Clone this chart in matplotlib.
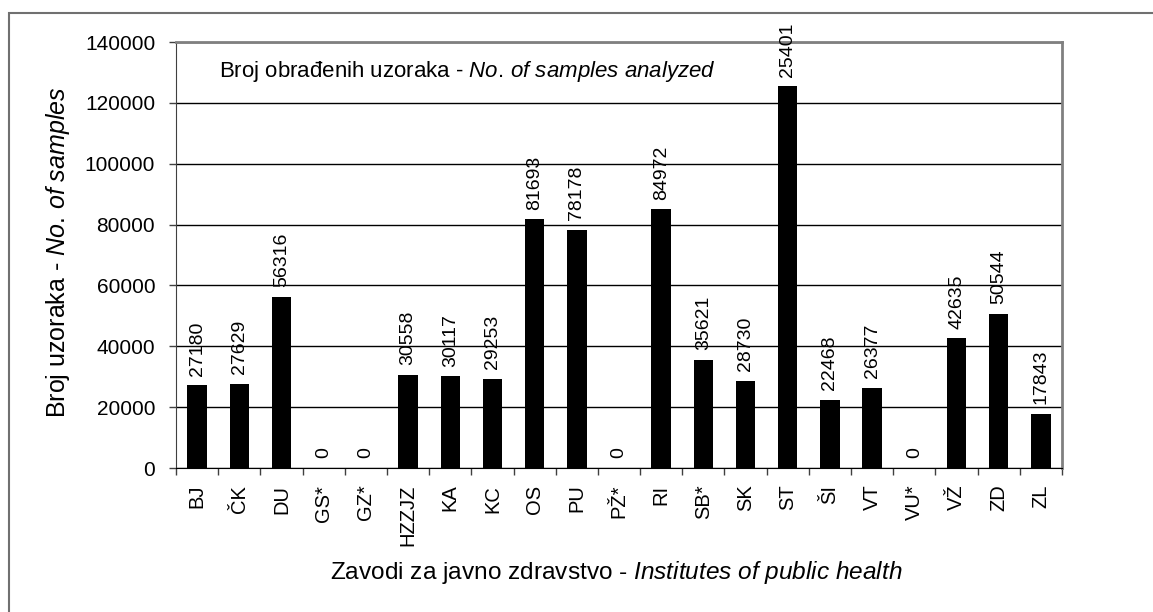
import matplotlib
matplotlib.use('Agg')
from matplotlib import pyplot as plt
from matplotlib.patches import Rectangle

plt.rcParams['font.family'] = ['Liberation Sans', 'DejaVu Sans']
plt.rcParams['mathtext.fontset'] = 'custom'
plt.rcParams['mathtext.rm'] = 'Liberation Sans'
plt.rcParams['mathtext.it'] = 'Liberation Sans:italic'

institutes = ['BJ', 'ČK', 'DU', 'GS*', 'GZ*', 'HZZJZ', 'KA', 'KC', 'OS', 'PU', 'PŽ*',
              'RI', 'SB*', 'SK', 'ST', 'ŠI', 'VT', 'VU*', 'VŽ', 'ZD', 'ZL']
samples = [27180, 27629, 56316, 0, 0, 30558, 30117, 29253, 81693, 78178, 0,
           84972, 35621, 28730, 125401, 22468, 26377, 0, 42635, 50544, 17843]
y_ticks = [0, 20000, 40000, 60000, 80000, 100000, 120000, 140000]

fig = plt.figure(figsize=(11.53, 6.12), dpi=100)
ax = fig.add_axes([176 / 1153, 1 - 468 / 612, 886 / 1153, 426 / 612])

x = list(range(len(institutes)))
ax.bar(x, samples, width=0.46, color='black', zorder=3)

for i, v in enumerate(samples):
    label = str(v)
    if institutes[i] == 'ST':
        # leading digit is cut off in the original chart
        label = label[1:]
    ax.annotate(label, (i, v), xytext=(0, 7), textcoords='offset points',
                rotation=90, ha='center', va='bottom', fontsize=14,
                annotation_clip=False, zorder=4)

ax.set_xlim(-0.5, len(institutes) - 0.5)
ax.set_ylim(0, 140000)
ax.set_yticks(y_ticks)
ax.set_yticklabels([str(t) for t in y_ticks], fontsize=15)
ax.set_xticks(x)
ax.set_xticklabels(institutes, rotation=90, fontsize=14.5)
ax.tick_params(axis='x', length=0, pad=12)
ax.set_xticks([i - 0.5 for i in range(len(institutes) + 1)], minor=True)
ax.tick_params(axis='x', which='minor', length=5, width=1, color='#404040')
ax.tick_params(axis='y', length=5, width=1, color='#404040', pad=10)

ax.grid(axis='y', color='black', linewidth=1, zorder=0)
ax.spines['top'].set_color('#808080')
ax.spines['right'].set_color('#808080')
ax.spines['top'].set_linewidth(2)
ax.spines['right'].set_linewidth(2)
ax.spines['left'].set_color('#404040')
ax.spines['bottom'].set_color('black')

ax.text(0.0485, 0.93, 'Broj obrađenih uzoraka - $\\it{No.\\!\\ of\\ samples\\ analyzed}$',
        transform=ax.transAxes, fontsize=16, va='center', ha='left')

fig.text(58 / 1153, 1 - 252 / 612, 'Broj uzoraka - $\\it{No.\\!\\ of\\ samples}$',
         rotation=90, ha='center', va='center', fontsize=18)
fig.text(616 / 1153, 1 - 573 / 612,
         'Zavodi za javno zdravstvo - $\\it{Institutes\\ of\\ public\\ health}$',
         ha='center', va='center', fontsize=17.6)

fig.patches.append(Rectangle((9 / 1153, -0.1), 1.2, 1 - 13 / 612 + 0.1,
                             transform=fig.transFigure, fill=False,
                             edgecolor='#707070', linewidth=1.5))

fig.savefig('out.png', dpi=100)
